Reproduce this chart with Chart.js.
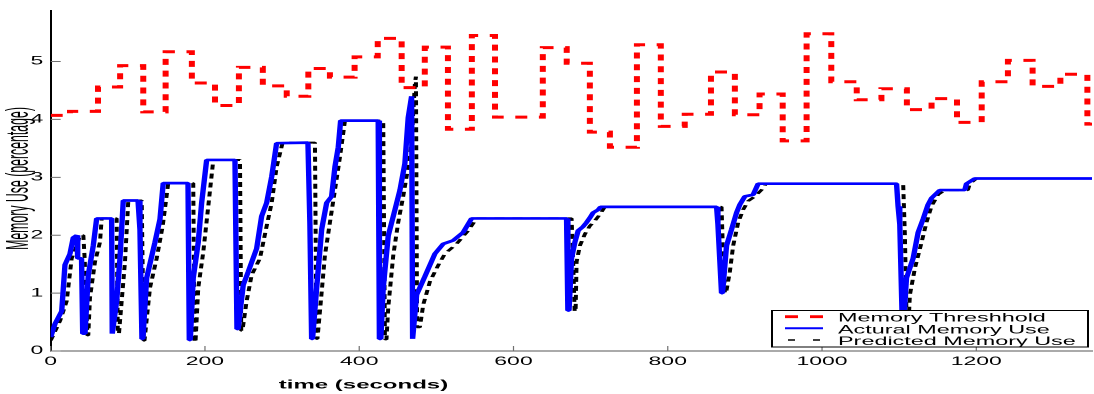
<!DOCTYPE html>
<html>
<head>
<meta charset="utf-8">
<title>Memory Use</title>
<script src="https://cdn.jsdelivr.net/npm/chart.js@4.4.1/dist/chart.umd.min.js"></script>
<style>
  html, body { margin: 0; padding: 0; background: #fff; overflow: hidden; }
  #wrap { width: 1094px; height: 394px; overflow: hidden; }
  /* the original figure is stretched sideways, so the chart is drawn narrow and widened */
  #memChart { display: block; transform: scaleX(2); transform-origin: 0 0; }
</style>
</head>
<body>
<div id="wrap"><canvas id="memChart" width="547" height="394"></canvas></div>
<script>
// ---- data ----
const seriesNames = ['Memory Threshhold', 'Actural Memory Use', 'Predicted Memory Use'];

const thresholdTime = [0, 25, 61.3, 90, 120, 149, 183, 213, 244, 275, 306, 334, 362, 394, 424, 455, 485, 515, 546, 576,
  638, 669, 699, 725, 760, 791, 822, 856, 887, 919, 949, 980, 1012, 1045, 1077, 1110, 1142, 1175, 1207, 1241, 1273, 1309, 1344, 1350];
const thresholdValue = [4.07, 4.14, 4.56, 4.93, 4.13, 5.17, 4.63, 4.24, 4.9, 4.58, 4.4, 4.88, 4.73, 5.08, 5.4, 4.55, 5.25, 3.83, 5.45, 4.04,
  5.24, 4.97, 3.78, 3.52, 5.29, 3.88, 4.09, 4.82, 4.08, 4.44, 3.63, 5.48, 4.65, 4.34, 4.53, 4.17, 4.36, 3.95, 4.65, 5.02, 4.57, 4.78, 3.92, 3.92];

const actualTime = [0, 5.6, 14.3, 18.5, 25, 29.3, 34, 35, 40, 41.5, 44.5, 48.7, 55.2, 59.6, 79, 79.8, 82, 85.5, 89.8, 94.1,
  113.2, 115.7, 118.3, 119.5, 124.4, 135.2, 141.7, 145.9, 178, 179.7, 181, 184.8, 191.3, 195.7, 202.2, 238.9, 241.5, 243, 249.6, 256.1,
  267, 273.5, 280, 286.5, 292.9, 333.5, 336, 338.3, 339.5, 344.8, 351.3, 357.8, 364.2, 368.5, 372.8, 375.9, 424.6, 425.5, 426.8, 428,
  431.1, 437.6, 446.3, 452.8, 459.2, 463.5, 467.9, 469.2, 470.5, 474.4, 485.2, 498.1, 508.9, 521.8, 534.8, 545.7, 668.8, 670.5, 672, 675.3,
  679.6, 683.9, 690.3, 694.7, 699, 703.3, 709.8, 712.9, 863.3, 865, 869.7, 871, 876.2, 882.7, 889.2, 893.5, 899.9, 910.7, 917.2, 1096.6,
  1098.6, 1100.8, 1104.5, 1106, 1109.5, 1118.1, 1124.6, 1131.1, 1137.5, 1141.9, 1152.7, 1185.1, 1187.3, 1198.1, 1350];
const actualValue = [0.24, 0.47, 0.69, 1.49, 1.68, 1.96, 2.0, 1.6, 1.6, 0.3, 0.3, 1.31, 1.82, 2.29, 2.29, 0.3, 0.3, 0.86, 1.6, 2.6,
  2.6, 2.1, 0.21, 0.21, 1.26, 1.88, 2.28, 2.9, 2.9, 0.19, 0.19, 1.26, 1.88, 2.56, 3.3, 3.3, 0.38, 0.38, 1.14, 1.37,
  1.77, 2.33, 2.56, 3.01, 3.59, 3.6, 2.22, 0.21, 0.21, 1.09, 2.1, 2.56, 2.67, 3.18, 3.52, 3.98, 3.98, 3.21, 0.21, 0.21,
  1.09, 1.99, 2.44, 2.78, 3.24, 4.03, 4.4, 0.21, 0.21, 0.97, 1.29, 1.68, 1.85, 1.91, 2.05, 2.29, 2.29, 0.7, 0.7, 1.6,
  1.88, 2.08, 2.15, 2.22, 2.3, 2.39, 2.44, 2.49, 2.49, 2.19, 1.0, 1.0, 1.82, 2.1, 2.39, 2.53, 2.67, 2.7, 2.89, 2.89,
  2.5, 2.19, 0.25, 0.25, 1.26, 1.6, 2.05, 2.28, 2.53, 2.64, 2.78, 2.78, 2.89, 2.98, 2.98];

const predictedTime = [0, 12.1, 20.7, 27.2, 33.7, 38, 42.3, 44, 47.5, 48.7, 50.9, 57.4, 63.9, 66.1, 85.5, 87, 88.5, 92, 96.3, 100.6,
  118, 120.5, 121.6, 128.7, 137.4, 145.2, 152.4, 184.8, 186.5, 187.7, 191.3, 197.8, 204.3, 210.8, 245.4, 247, 248.5, 254, 260.5, 271.3,
  280, 286.5, 292.9, 300.7, 342.6, 344.5, 345.8, 349.1, 355.5, 362, 368.5, 375, 381.5, 431.1, 433.3, 435.3, 437.6, 444.1, 450.5, 457,
  463.5, 467.9, 472.2, 473.5, 475, 478.6, 483, 491.7, 502.4, 511.1, 526.2, 541.3, 552.2, 675.3, 677.4, 679.3, 680.5, 681.8, 686.1, 692.6,
  699, 705.5, 712, 718.5, 869.7, 871.8, 874, 875.5, 880.5, 884.8, 891.3, 897.7, 904.2, 912.9, 923.7, 927.2, 1105.2, 1107.4, 1110, 1111.5,
  1113.9, 1120.4, 1129.1, 1135.4, 1141.9, 1150.4, 1159.2, 1189, 1191.6, 1200.3, 1350];
const predictedValue = [0.18, 0.52, 0.86, 1.6, 1.82, 2.0, 2.0, 1.6, 0.27, 0.27, 0.92, 1.54, 1.88, 2.29, 2.29, 0.3, 0.3, 0.86, 1.54, 2.6,
  2.6, 0.18, 0.18, 1.09, 1.6, 2.16, 2.9, 2.9, 0.15, 0.15, 1.09, 1.71, 2.5, 3.3, 3.3, 0.35, 0.35, 0.86, 1.31, 1.6,
  2.16, 2.56, 3.18, 3.6, 3.6, 0.21, 0.21, 0.69, 1.65, 2.22, 2.78, 3.35, 3.98, 3.98, 0.2, 0.2, 0.75, 1.65, 2.22, 2.67,
  3.18, 3.63, 4.62, 4.74, 0.41, 0.41, 0.8, 1.2, 1.48, 1.68, 1.85, 2.08, 2.29, 2.29, 1.5, 0.68, 0.68, 1.54, 1.82, 2.02,
  2.16, 2.25, 2.36, 2.49, 2.49, 1.6, 1.0, 1.0, 1.37, 1.82, 2.22, 2.44, 2.59, 2.67, 2.81, 2.89, 2.89, 2.0, 0.3, 0.3,
  0.97, 1.43, 1.88, 2.22, 2.5, 2.7, 2.78, 2.78, 2.89, 2.98, 2.98];

const xTickValues = [0, 200, 400, 600, 800, 1000, 1200];
const yTickValues = [0, 1, 2, 3, 4, 5];

const FONT = '"Liberation Sans", Arial, Helvetica, sans-serif';

function toPoints(t, v) {
  return t.map(function (x, i) { return { x: x, y: v[i] }; });
}

// inward MATLAB style ticks, legend box and axis titles
const matlabLook = {
  id: 'matlabLook',
  beforeDatasetsDraw(chart) {
    const { ctx, chartArea: area, scales } = chart;
    ctx.save();
    ctx.strokeStyle = '#707070';
    ctx.lineWidth = 0.6;
    ctx.beginPath();
    scales.x.ticks.forEach(function (t) {
      const px = scales.x.getPixelForValue(t.value);
      ctx.moveTo(px, area.bottom);
      ctx.lineTo(px, area.bottom - 5);
    });
    ctx.stroke();
    ctx.lineWidth = 1;
    ctx.beginPath();
    scales.y.ticks.forEach(function (t) {
      const py = scales.y.getPixelForValue(t.value);
      ctx.moveTo(area.left, py);
      ctx.lineTo(area.left + 5, py);
    });
    ctx.stroke();
    ctx.restore();
  },
  afterDraw(chart) {
    const ctx = chart.ctx;
    const sets = chart.data.datasets;
    ctx.save();

    // legend
    ctx.fillStyle = '#fff';
    ctx.fillRect(386, 310.5, 158, 36.5);
    ctx.strokeStyle = '#000';
    ctx.lineWidth = 1;
    ctx.strokeRect(386, 310.5, 158, 36.5);

    const rowLine = [316.7, 328.3, 340];
    const rowText = [321.7, 333.3, 345];
    const pieces = [
      [[392.5, 399], [405, 411.5]],
      [[392.5, 411.5]],
      [[394, 397.5], [406.5, 410]]
    ];
    const widths = [2.8, 2, 1.5];
    sets.forEach(function (ds, i) {
      ctx.strokeStyle = ds.borderColor;
      ctx.lineWidth = widths[i];
      ctx.beginPath();
      pieces[i].forEach(function (p) {
        ctx.moveTo(p[0], rowLine[i]);
        ctx.lineTo(p[1], rowLine[i]);
      });
      ctx.stroke();
      ctx.fillStyle = '#000';
      ctx.font = '11.7px ' + FONT;
      ctx.textAlign = 'left';
      ctx.textBaseline = 'alphabetic';
      ctx.fillText(ds.label, 419, rowText[i]);
    });

    // axis titles
    ctx.fillStyle = '#000';
    ctx.font = 'bold 12px ' + FONT;
    ctx.textAlign = 'center';
    ctx.textBaseline = 'alphabetic';
    ctx.fillText('time (seconds)', 181.75, 388.5);

    ctx.translate(9.4, 178.5);
    ctx.rotate(-Math.PI / 2);
    ctx.scale(1, 1.3);
    ctx.font = '12.3px ' + FONT;
    ctx.textBaseline = 'middle';
    ctx.fillText('Memory Use (percentage)', 0, 0);
    ctx.restore();
  }
};

const ctx = document.getElementById('memChart').getContext('2d');

const memChart = new Chart(ctx, {
  type: 'line',
  data: {
    datasets: [{
      label: seriesNames[0],
      data: toPoints(thresholdTime, thresholdValue),
      borderColor: '#ff0000',
      borderWidth: 3,
      borderDash: [6, 5.8],
      borderCapStyle: 'butt',
      stepped: 'before'
    }, {
      label: seriesNames[1],
      data: toPoints(actualTime, actualValue),
      borderColor: '#0000ff',
      borderWidth: 2.7,
      borderJoinStyle: 'bevel'
    }, {
      label: seriesNames[2],
      data: toPoints(predictedTime, predictedValue),
      borderColor: '#000000',
      borderWidth: 2,
      borderDash: [5, 4],
      borderCapStyle: 'butt',
      borderJoinStyle: 'bevel'
    }]
  },
  options: {
    responsive: false,
    animation: false,
    devicePixelRatio: 2,
    events: [],
    layout: { padding: { top: 5, right: 1, left: 0, bottom: 0 } },
    elements: {
      point: { radius: 0 },
      line: { tension: 0, fill: false }
    },
    plugins: {
      legend: { display: false },
      tooltip: { enabled: false }
    },
    scales: {
      x: {
        type: 'linear',
        min: 0,
        max: 1350,
        afterBuildTicks: function (scale) {
          scale.ticks = xTickValues.map(function (v) { return { value: v }; });
        },
        afterFit: function (scale) { scale.height = 43; },
        grid: { display: false, drawTicks: false },
        border: { display: true, color: '#555', width: 1 },
        ticks: {
          padding: 4,
          maxRotation: 0,
          autoSkip: false,
          color: '#000',
          font: { family: FONT, size: 11.5 },
          callback: function (value) { return String(value); }
        }
      },
      y: {
        type: 'linear',
        min: 0,
        max: 5.88,
        afterBuildTicks: function (scale) {
          scale.ticks = yTickValues.map(function (v) { return { value: v }; });
        },
        afterFit: function (scale) { scale.width = 25.35; },
        grid: { display: false, drawTicks: false },
        border: { display: true, color: '#000', width: 1 },
        ticks: {
          padding: 3.7,
          color: '#000',
          font: { family: FONT, size: 11.5 },
          callback: function (value) { return String(value); }
        }
      }
    }
  },
  plugins: [matlabLook]
});
</script>
</body>
</html>
